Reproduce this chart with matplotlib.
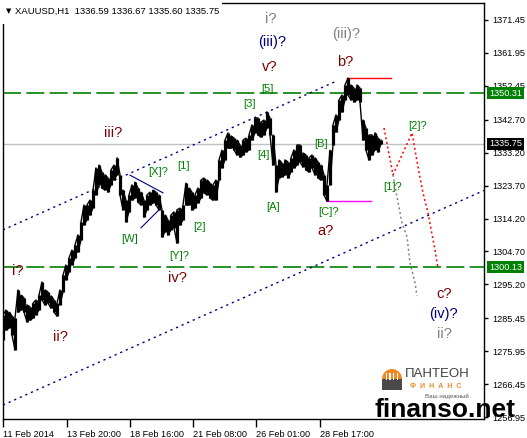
import matplotlib
matplotlib.use("Agg")
import matplotlib.pyplot as plt
import matplotlib.transforms as mtransforms
from matplotlib.patches import Wedge, Rectangle

# ---- data (bar index is 1 px per H1 bar) ----
# high / low of the price every 3 bars, starting at bar 0
bar_hi = [1286.4, 1287.8, 1287.2, 1286.1, 1285.5, 1293.6, 1292.1, 1291.3, 1289.3, 1288.7,
          1289.8, 1290.7, 1292.1, 1295.9, 1293.6, 1293.0, 1291.9, 1290.7, 1289.8, 1293.6,
          1297.9, 1300.8, 1302.8, 1305.1, 1306.6, 1309.5, 1313.2, 1318.1, 1318.1, 1319.5,
          1322.4, 1328.8, 1329.6, 1327.6, 1326.8, 1325.9, 1328.2, 1329.6, 1331.7, 1326.8,
          1322.4, 1319.5, 1321.0, 1323.9, 1324.7, 1323.0, 1321.8, 1319.5, 1321.0, 1321.8,
          1322.4, 1321.8, 1321.0, 1316.7, 1315.2, 1313.8, 1315.2, 1316.1, 1316.7, 1317.2,
          1318.1, 1324.4, 1323.0, 1321.8, 1321.0, 1323.0, 1325.3, 1325.9, 1325.3, 1324.4,
          1323.9, 1325.3, 1331.1, 1333.9, 1336.8, 1338.9, 1338.0, 1337.4, 1336.8, 1335.4,
          1336.8, 1337.4, 1338.3, 1341.2, 1343.2, 1343.2, 1342.0, 1342.6, 1344.9, 1343.2,
          1338.3, 1329.6, 1331.1, 1330.2, 1331.1, 1330.5, 1331.7, 1334.0, 1335.4, 1335.4,
          1333.1, 1332.5, 1331.7, 1332.5, 1331.7, 1330.5, 1329.6, 1326.8, 1323.9, 1333.9,
          1341.2, 1344.1, 1348.4, 1349.8, 1352.7, 1354.7, 1352.7, 1351.8, 1352.7, 1351.8,
          1342.6, 1340.3, 1338.3, 1338.3, 1338.9, 1337.4, 1336.8]
bar_lo = [1279.2, 1282.0, 1282.6, 1280.6, 1276.3, 1287.2, 1287.8, 1287.2, 1284.4, 1284.9,
          1285.5, 1286.4, 1287.8, 1290.7, 1289.3, 1289.8, 1288.4, 1287.2, 1286.1, 1289.3,
          1293.0, 1296.5, 1298.8, 1300.8, 1302.8, 1304.5, 1308.0, 1312.3, 1313.8, 1315.2,
          1317.2, 1321.0, 1323.9, 1323.0, 1322.4, 1321.8, 1323.9, 1325.3, 1326.8, 1321.0,
          1316.7, 1313.2, 1316.1, 1319.5, 1320.1, 1318.9, 1318.1, 1314.6, 1316.7, 1318.1,
          1318.7, 1318.1, 1316.7, 1308.9, 1310.3, 1309.5, 1310.9, 1311.5, 1307.1, 1312.3,
          1313.8, 1318.1, 1318.1, 1316.7, 1317.2, 1318.7, 1320.1, 1321.6, 1321.0, 1320.1,
          1319.5, 1319.5, 1325.3, 1328.8, 1331.1, 1334.5, 1334.5, 1334.0, 1332.5, 1331.9,
          1332.5, 1333.4, 1334.0, 1336.8, 1338.9, 1338.3, 1337.7, 1338.3, 1340.3, 1338.3,
          1329.6, 1321.8, 1325.9, 1326.2, 1326.8, 1325.9, 1327.6, 1328.8, 1329.6, 1330.5,
          1329.1, 1328.2, 1327.6, 1328.8, 1326.8, 1325.9, 1325.3, 1321.0, 1319.2, 1323.9,
          1335.4, 1339.1, 1342.6, 1344.9, 1348.4, 1349.8, 1348.4, 1347.8, 1348.4, 1347.8,
          1336.8, 1333.9, 1331.1, 1332.5, 1334.0, 1333.4, 1335.75]

price_ticks = [1371.45, 1361.95, 1352.45, 1342.70, 1333.20, 1323.70, 1314.20,
               1304.70, 1295.20, 1285.45, 1275.95, 1266.45, 1256.95]
time_ticks = [0, 64, 127, 190, 253, 317]
time_labels = ["11 Feb 2014", "13 Feb 20:00", "18 Feb 16:00", "21 Feb 08:00",
               "26 Feb 01:00", "28 Feb 17:00"]

last_price = 1335.75
level_hi = 1350.31
level_lo = 1300.13

# channel and helper lines (bar, price)
chan_up = ([0, 334], [1310.9, 1353.9])
chan_dn = ([0, 481], [1260.4, 1322.3])
tri_up = ([127, 160], [1326.7, 1321.6])
tri_dn = ([138, 156], [1311.5, 1316.7])
b_top = ([344, 388], [1354.7, 1354.7])
c_low = ([324, 368], [1319.2, 1319.2])
proj_red = ([381, 390, 409, 415, 420, 425, 432, 435],
            [1340.3, 1326.8, 1338.9, 1329.1, 1321.6, 1315.8, 1305.1, 1299.9])
proj_gray = ([390, 394, 399, 404, 407, 412, 414],
             [1326.8, 1320.4, 1312.9, 1308.9, 1301.4, 1295.6, 1291.9])

GREEN = "#008000"
MAROON = "#800000"
NAVY = "#000080"
GRAY = "#808080"

# wave labels: text, bar, price, colour, size
wave_labels = [
    ("i?", 268, 1371.7, GRAY, 10.5), ("(iii)?", 269, 1365.1, NAVY, 10.5),
    ("v?", 267, 1357.9, MAROON, 10.5), ("[5]", 264, 1351.5, GREEN, 8),
    ("[3]", 246, 1347.2, GREEN, 8), ("[4]", 260, 1332.5, GREEN, 8),
    ("[A]", 270, 1317.5, GREEN, 8), ("(iii)?", 343, 1367.4, GRAY, 10.5),
    ("b?", 342, 1359.3, MAROON, 10.5), ("[B]", 318, 1335.7, GREEN, 8),
    ("[C]?", 326, 1316.1, GREEN, 8), ("a?", 322, 1310.6, MAROON, 10.5),
    ("[1]?", 390, 1323.3, GREEN, 8), ("[2]?", 415, 1340.9, GREEN, 8),
    ("c?", 441, 1292.4, MAROON, 10.5), ("(iv)?", 440, 1286.7, NAVY, 10.5),
    ("ii?", 441, 1280.9, GRAY, 10.5), ("iii?", 110, 1338.9, MAROON, 10.5),
    ("[X]?", 155, 1327.6, GREEN, 8), ("[1]", 181, 1329.3, GREEN, 8),
    ("[W]", 127, 1308.3, GREEN, 8), ("[2]", 196, 1311.8, GREEN, 8),
    ("[Y]?", 176, 1303.4, GREEN, 8), ("iv?", 174, 1297.0, MAROON, 10.5),
    ("i?", 15, 1299.1, MAROON, 10.5), ("ii?", 57, 1280.0, MAROON, 10.5),
]

W, H = 527, 438
FONT = ["Liberation Sans", "DejaVu Sans"]
plt.rcParams["font.family"] = FONT


def fx(x):
    return x / W


def fy(y):
    return 1 - y / H


fig = plt.figure(figsize=(W / 100, H / 100), dpi=100)
ax = fig.add_axes([fx(3), fy(419), 481 / W, 416 / H])
ax.set_xlim(0, 481)
ax.set_ylim(1256.38, 1376.35)

# price: high-low bars wide enough to merge, plus a jagged path through them
bx = [3 * i for i in range(len(bar_hi))]
ax.vlines(bx, bar_lo, bar_hi, color="black", lw=2.3, zorder=5)
px, py = [], []
for i in range(len(bar_hi)):
    if i % 2 == 0:
        px += [bx[i], bx[i]]
        py += [bar_lo[i], bar_hi[i]]
    else:
        px += [bx[i], bx[i]]
        py += [bar_hi[i], bar_lo[i]]
ax.plot(px, py, color="black", lw=1.0, zorder=5)

ax.axhline(last_price, color="#c0c0c0", lw=1, zorder=1)
for lv in (level_hi, level_lo):
    ax.axhline(lv, color=GREEN, lw=1.2, ls=(0, (10.8, 3.2)), zorder=2)

for ln in (chan_up, chan_dn):
    ax.plot(ln[0], ln[1], color=NAVY, lw=1.0, ls=(0, (1.6, 2.8)), zorder=3)
for ln in (tri_up, tri_dn):
    ax.plot(ln[0], ln[1], color=NAVY, lw=0.8, zorder=3)
ax.plot(b_top[0], b_top[1], color="red", lw=1.0, zorder=3)
ax.plot(c_low[0], c_low[1], color="#ff00ff", lw=1.0, zorder=3)
ax.plot(proj_red[0], proj_red[1], color="red", lw=1.1, ls=(0, (1.3, 1.8)), zorder=3)
ax.plot(proj_gray[0], proj_gray[1], color=GRAY, lw=1.1, ls=(0, (1.3, 1.8)), zorder=3)

for txt, lx, ly, col, fs in wave_labels:
    ax.text(lx, ly, txt, color=col, fontsize=fs, ha="center", va="center", zorder=6)

# axes and ticks in terminal style
for s in ax.spines.values():
    s.set_linewidth(1)
    s.set_color("black")
ax.yaxis.tick_right()
ax.set_yticks(price_ticks)
ax.set_yticklabels([f"{v:.2f}" for v in price_ticks])
ax.tick_params(axis="y", length=3, width=1, pad=3, labelsize=6.6)
ax.set_xticks(time_ticks)
ax.set_xticklabels(time_labels, ha="left")
ax.tick_params(axis="x", length=6, width=1, pad=2, labelsize=6.6)

trans = mtransforms.blended_transform_factory(ax.transAxes, ax.transData)
for val, bg in ((level_hi, GREEN), (last_price, "black"), (level_lo, GREEN)):
    ax.text(1 + 5 / 481, val, f"{val:.2f}", transform=trans, color="white",
            fontsize=6.6, ha="left", va="center", zorder=10, clip_on=False,
            bbox=dict(boxstyle="square,pad=0.18", fc=bg, ec="none"))

# header
fig.patches.append(Rectangle((0, fy(24)), fx(222), 24 / H, transform=fig.transFigure,
                             fc="white", ec="none", zorder=20))
fig.text(fx(6), fy(11), "\u25bc", fontsize=5, va="center", family=["DejaVu Sans"], zorder=21)
fig.text(fx(15), fy(11), "XAUUSD,H1  1336.59 1336.67 1335.60 1335.75",
         fontsize=6.8, va="center", zorder=21)

# logo / watermark
lg = fig.add_axes([fx(381), fy(392), 22 / W, 26 / H])
lg.set_xlim(0, 22)
lg.set_ylim(0, 26)
lg.axis("off")
lg.add_patch(Wedge((11, 13), 10, 0, 180, fc="#f08a24", ec="none"))
lg.add_patch(Rectangle((1, 2), 20, 11, fc="#4a4a4a", ec="none"))
for k in range(4):
    lg.add_patch(Rectangle((5 + 3.5 * k, 12), 1.4, 7, fc="white", ec="none"))
fig.text(fx(437), fy(374), "ПАНТЕОН", fontsize=9.5, color="#404040",
         ha="center", va="center")
fig.text(fx(436), fy(387), "Ф  И  Н  А  Н  С", fontsize=5, color="#f08a24",
         ha="center", va="center", weight="bold")
fig.text(fx(447), fy(396), "Ваш надежный", fontsize=4.5, color="#555555",
         ha="center", va="center")
fig.text(fx(445), fy(417), "finanso.net", fontsize=19, weight="bold",
         color="black", ha="center", va="baseline", zorder=30)

fig.savefig("out.png", dpi=100)
